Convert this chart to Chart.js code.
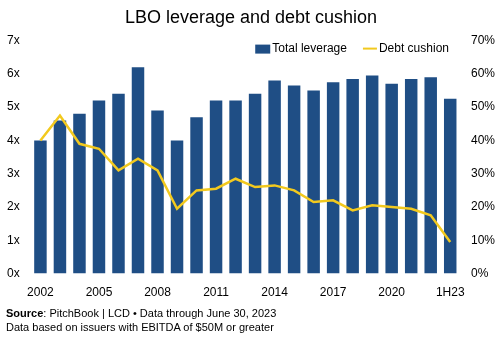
<!DOCTYPE html>
<html>
<head>
<meta charset="utf-8">
<script src="https://cdn.jsdelivr.net/npm/chart.js@4"></script>
<style>
  body { margin: 0; background: #fff; font-family: "Liberation Sans", Arial, sans-serif; }
  #wrap { position: relative; width: 500px; height: 340px; }
  #note { position: absolute; left: 6px; top: 306px; font-size: 11px; line-height: 14px; color: #000; }
</style>
</head>
<body>
<div id="wrap">
  <canvas id="lbo" width="500" height="308"></canvas>
  <div id="note"><b>Source</b>: PitchBook | LCD • Data through June 30, 2023<br>Data based on issuers with EBITDA of $50M or greater</div>
</div>
<script>
const years = ['2002', '2003', '2004', '2005', '2006', '2007', '2008', '2009', '2010', '2011', '2012',
  '2013', '2014', '2015', '2016', '2017', '2018', '2019', '2020', '2021', '2022', '1H23'];
const totalLeverage = [4.0, 4.6, 4.8, 5.2, 5.4, 6.2, 4.9, 4.0, 4.7, 5.2, 5.2,
  5.4, 5.8, 5.65, 5.5, 5.75, 5.85, 5.95, 5.7, 5.85, 5.9, 5.25];
const debtCushion = [40, 47.5, 39, 37.5, 31, 34.5, 31, 19.5, 25, 25.5, 28.5,
  26, 26.5, 25, 21.5, 22, 19, 20.5, 20, 19.5, 17.5, 9.5];

const barColor = '#1F4E85';
const lineColor = '#F2C91E';
const tickFont = { family: 'Liberation Sans', size: 12 };

// legend drawn inside the plot, top right
const insideLegend = {
  id: 'insideLegend',
  afterDraw(chart) {
    const ctx = chart.ctx;
    const area = chart.chartArea;
    ctx.save();
    ctx.font = '12px "Liberation Sans"';
    ctx.fillStyle = '#000';
    ctx.textBaseline = 'middle';
    const y = area.top + 8;
    const t2 = 'Debt cushion', t1 = 'Total leverage';
    let x = area.right - 11 - ctx.measureText(t2).width;
    ctx.fillText(t2, x, y);
    ctx.strokeStyle = lineColor;
    ctx.lineWidth = 2;
    ctx.beginPath();
    ctx.moveTo(x - 16, y);
    ctx.lineTo(x - 2, y);
    ctx.stroke();
    x = x - 32 - ctx.measureText(t1).width;
    ctx.fillText(t1, x, y);
    ctx.fillStyle = barColor;
    ctx.fillRect(x - 17, y - 4, 15, 9);
    ctx.restore();
  }
};

new Chart(document.getElementById('lbo'), {
  data: {
    labels: years,
    datasets: [
      {
        type: 'line', label: 'Debt cushion', data: debtCushion, yAxisID: 'yRight',
        borderColor: lineColor, backgroundColor: lineColor, borderWidth: 2.5,
        pointRadius: 0, tension: 0, order: 0
      },
      {
        type: 'bar', label: 'Total leverage', data: totalLeverage, yAxisID: 'yLeft',
        backgroundColor: barColor,
        categoryPercentage: 0.8, barPercentage: 0.8, order: 1
      }
    ]
  },
  options: {
    responsive: false,
    animation: false,
    layout: { padding: { left: 4, right: 2, top: 0, bottom: 4 } },
    plugins: {
      title: {
        display: true, text: 'LBO leverage and debt cushion', color: '#000',
        font: { family: 'Liberation Sans', size: 18, weight: 'normal' },
        padding: { top: 7, bottom: 12 }
      },
      legend: { display: false },
      tooltip: { enabled: false }
    },
    scales: {
      x: {
        grid: { display: false }, border: { display: false },
        ticks: {
          autoSkip: false, maxRotation: 0, color: '#000', font: tickFont, padding: 4,
          callback: function (v, i) { return i % 3 === 0 ? this.getLabelForValue(v) : ''; }
        }
      },
      yLeft: {
        position: 'left', min: 0, max: 7,
        grid: { display: false }, border: { display: false },
        ticks: { stepSize: 1, color: '#000', font: tickFont, callback: v => v + 'x' }
      },
      yRight: {
        position: 'right', min: 0, max: 70,
        grid: { display: false }, border: { display: false },
        ticks: { stepSize: 10, color: '#000', font: tickFont, callback: v => v + '%' }
      }
    }
  },
  plugins: [insideLegend]
});
</script>
</body>
</html>
